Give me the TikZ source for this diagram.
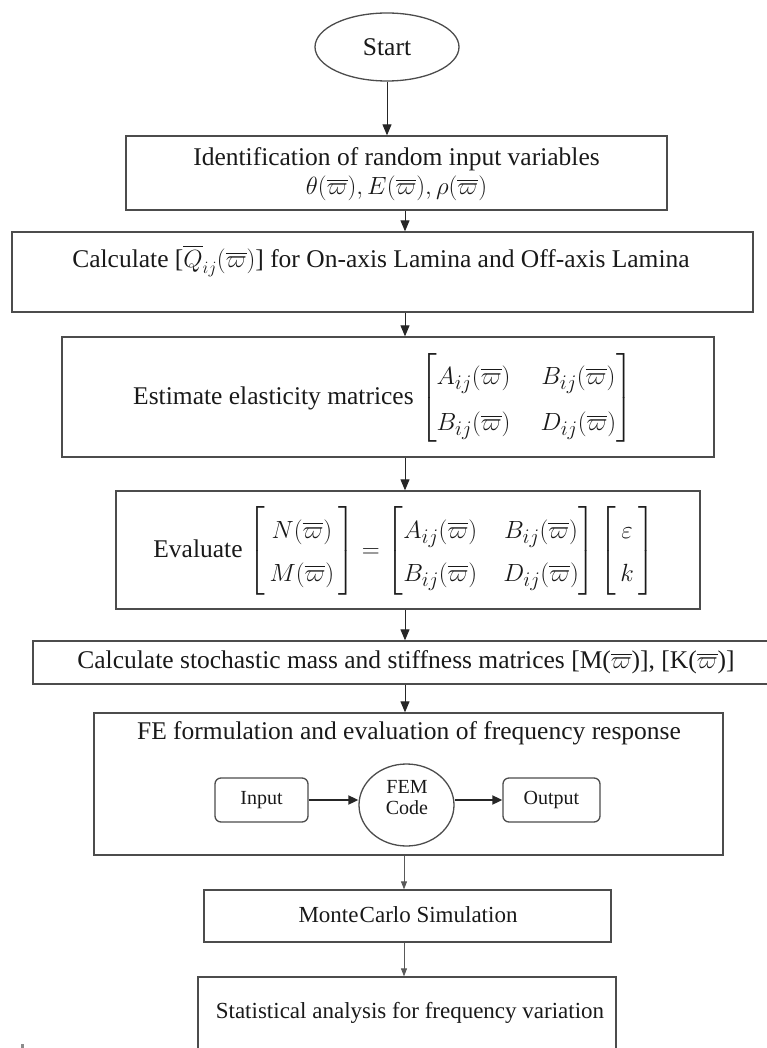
\documentclass[tikz,border=0pt]{standalone}
\usepackage{amsmath}
\usepackage{fontspec}
\setmainfont{Liberation Serif}
\usetikzlibrary{arrows.meta,shapes.geometric}
\newcommand{\vp}{\overline{\varpi}}
\newcommand{\bigmath}{\fontsize{28}{33}\selectfont\renewcommand{\arraystretch}{1.4}}
\begin{document}
\begin{tikzpicture}[x=1pt,y=-1pt,
  box/.style={draw=black!70, line width=1.3pt, inner sep=0pt, rectangle},
  rbox/.style={draw=black!70, line width=1.3pt, inner sep=0pt, rectangle, rounded corners=6pt},
  conn/.style={draw=black!85, line width=1pt, -{Triangle[length=11pt,width=9pt]}},
  thinconn/.style={draw=black!65, line width=0.8pt, -{Triangle[length=8pt,width=6pt]}},
  thickconn/.style={draw=black!85, line width=1.8pt, -{Triangle[length=10pt,width=9pt]}},
  txt/.style={font=\fontsize{25.5}{31}\selectfont, inner sep=0pt, align=center, text=black!90},
  smalltxt/.style={font=\fontsize{20}{21}\selectfont, inner sep=0pt, align=center, text=black!90},
  midtxt/.style={font=\fontsize{23}{27}\selectfont, inner sep=0pt, align=center, text=black!90},
]
\useasboundingbox (0,0) rectangle (767,1048);
\coordinate (ax) at (405,0);
\coordinate (bx) at (404,0);

% Start
\node[draw=black!70, line width=1.3pt, ellipse, minimum width=144pt, minimum height=68pt, inner sep=0pt, txt] (start) at (387,47) {Start};

% Identification
\node[box, minimum width=541pt, minimum height=74pt] (ident) at (396.5,173) {};
\node[txt] (identtxt) at (396.5,174) {Identification of random input variables\\[-2pt] $\theta(\vp),E(\vp),\rho(\vp)$};

% Calculate Q
\node[box, minimum width=741pt, minimum height=80pt] (calc) at (382.5,272) {};
\node[txt] (calctxt) at (381,261) {Calculate [$\overline{Q}_{ij}(\vp)$] for On-axis Lamina and Off-axis Lamina};

% Estimate
\node[box, minimum width=652pt, minimum height=120pt] (est) at (388,397) {};
\node[txt] (esttxt) at (383,398) {Estimate elasticity matrices {\bigmath\arraycolsep=15pt$\begin{bmatrix} A_{ij}(\vp) & B_{ij}(\vp)\\ B_{ij}(\vp) & D_{ij}(\vp)\end{bmatrix}$}};

% Evaluate
\node[box, minimum width=584pt, minimum height=118pt] (eval) at (408,550) {};
\node[txt] (evaltxt) at (404,551) {Evaluate {\bigmath\renewcommand{\arraystretch}{1.3}\arraycolsep=13pt$\begin{bmatrix}\, N(\vp)\,\\ \,M(\vp)\,\end{bmatrix} = \begin{bmatrix} A_{ij}(\vp) & B_{ij}(\vp)\\ B_{ij}(\vp) & D_{ij}(\vp)\end{bmatrix}\begin{bmatrix}\,\varepsilon\,\\ \,k\,\end{bmatrix}$}};

% Calculate stochastic
\node[box, minimum width=760pt, minimum height=43pt] (stoch) at (413,662.5) {};
\node[txt] (stochtxt) at (406,662) {Calculate stochastic mass and stiffness matrices [M($\vp$)], [K($\vp$)]};

% FE formulation
\node[box, minimum width=629pt, minimum height=142pt] (fe) at (408.5,784) {};
\node[txt] (fetxt) at (409,733) {FE formulation and evaluation of frequency response};
\node[rbox, minimum width=93pt, minimum height=44pt, smalltxt] (input) at (261.5,800) {Input};
\node[draw=black!70, line width=1.3pt, ellipse, minimum width=95pt, minimum height=82pt, inner sep=0pt] (fem) at (406.5,805) {};
\node[smalltxt] (femtxt) at (407,798) {FEM\\Code};
\node[rbox, minimum width=97pt, minimum height=44pt, smalltxt] (output) at (551.5,800) {Output};

% Monte Carlo
\node[box, minimum width=407pt, minimum height=52pt] (monte) at (407.5,916) {};
\node[midtxt] (montetxt) at (408,915) {Monte\hspace{0.05em}Carlo Simulation};

% Statistical
\node[box, minimum width=418pt, minimum height=100pt] (stat) at (407,1027) {};
\node[midtxt] (stattxt) at (410,1013) {Statistical analysis for frequency variation};

% stray mark
\fill[black!45] (21,1044) rectangle (24,1048);

% connectors
\draw[conn] (start.south) -- (start.south |- ident.north);
\draw[conn] (ident.south -| ax) -- (calc.north -| ax);
\draw[conn] (calc.south -| ax) -- (est.north -| ax);
\draw[conn] (est.south -| ax) -- (eval.north -| ax);
\draw[conn] (eval.south -| ax) -- (stoch.north -| ax);
\draw[conn] (stoch.south -| ax) -- (fe.north -| ax);
\draw[thickconn] (input.east) -- (input.east -| fem.west);
\draw[thickconn] (fem.east |- output.west) -- (output.west);
\draw[thinconn] (fe.south -| bx) -- (monte.north -| bx);
\draw[thinconn] (monte.south -| bx) -- (stat.north -| bx);
\end{tikzpicture}
\end{document}
